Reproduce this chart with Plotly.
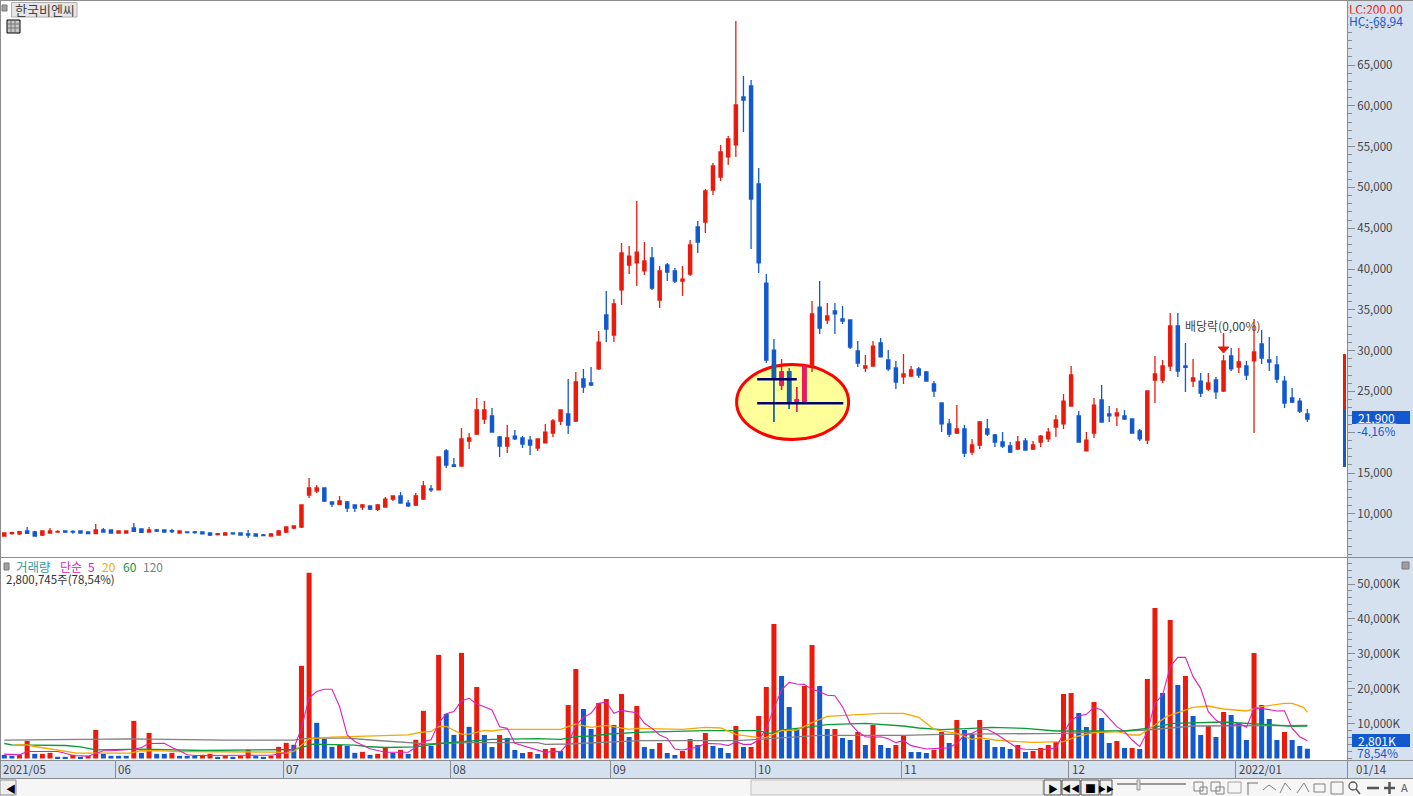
import plotly.graph_objects as go

# candles, one per trading day
opens = [7280,7570,7530,7890,7770,7400,7650,7770,7890,7850,
         7890,7770,7570,8020,8020,7650,7650,8260,8140,7770,
         8020,8020,7930,7650,7770,7770,7770,7650,7440,7400,
         7650,7650,7530,7530,7400,7280,7400,7770,8260,8380,
         12300,12790,13160,11450,11160,11450,11080,10830,10960,10550,
         10830,11810,12180,11320,11080,11810,13040,12920,17700,15980,
         15860,18920,19780,21620,21990,19410,18310,19530,19290,19040,
         18060,18680,19900,21370,22230,21370,26520,26030,27750,34360,
         31910,37430,40490,40740,39760,41350,36200,40490,39760,38530,
         39390,45150,45760,49680,51270,53730,55200,61080,62430,50420,
         38280,30070,25780,27380,23700,23700,28110,35340,33750,34850,
         33870,33750,29950,27870,28110,30930,28850,27870,26770,26890,
         27750,27380,25910,23580,21010,19900,20390,17570,18430,20390,
         19660,18800,18310,17940,18920,17940,18800,19170,20640,21010,
         23210,21990,17700,19900,23950,22230,21990,21990,21620,20150,
         19040,26400,26400,28110,33020,28110,26270,26270,25290,26400,
         25050,29340,27990,28110,28730,30810,28850,28240,26270,24190,
         23820,22230]
highs = [7650,7810,7890,8380,7890,7890,8260,7970,7890,7970,
         7890,7770,8750,8260,8020,7890,7890,8870,8140,8380,
         8140,8020,8140,7890,7770,7890,7770,7650,7650,7770,
         7690,7650,8020,7530,7530,7650,8020,8380,8510,11080,
         14390,13530,13160,11450,12180,11570,11080,11200,10960,11200,
         12060,12180,12670,11690,12550,14020,13530,16960,17940,16840,
         20510,19900,24190,23820,22970,19530,20880,20270,19530,19530,
         19170,21010,21620,22720,26520,27380,27750,27990,32400,37300,
         36320,43190,42820,48330,43310,42700,40370,40740,40120,40370,
         43550,45880,49800,52990,55200,56300,70390,63650,63160,52380,
         39390,31420,28970,27870,25540,28110,36080,38530,35830,35830,
         35470,33750,31180,29460,31180,31540,30070,28730,29580,28110,
         27990,27500,26270,23580,21620,23330,20880,19170,21370,21620,
         19780,20020,18800,19530,19290,18920,19660,20510,22110,24680,
         28110,22600,20020,24190,25780,23210,22970,22720,21620,20390,
         25050,29340,28850,34610,34610,30930,28970,27250,27250,26770,
         29460,30320,30320,28730,33870,32530,31670,29340,26890,25420,
         24190,22840]
lows = [7280,7440,7400,7570,7280,7280,7650,7730,7650,7570,
        7570,7570,7570,7770,7650,7650,7650,7770,7650,7770,
        7770,7770,7650,7650,7690,7570,7480,7280,7400,7400,
        7440,7400,7040,7280,7280,7280,7400,7650,8140,8260,
        11940,12550,11450,10830,11080,10220,10220,10470,10470,10340,
        10830,11570,11320,10830,10960,11690,12670,12920,15610,15740,
        15860,17940,19660,21000,20020,16960,17450,19040,18060,17210,
        17700,18680,19410,20880,19780,21250,24800,25660,27620,31050,
        31050,35590,39390,37920,39270,37430,35220,38530,38280,36690,
        39140,41960,44410,49070,50780,52750,53730,56790,42450,39510,
        28480,21250,25170,22840,22480,23700,27380,32030,33260,32030,
        33260,30200,27990,27380,28110,29220,27500,25290,25910,26770,
        26640,26270,24310,20020,19410,19780,16960,17210,17940,19530,
        18190,18060,17450,17820,17820,17820,18190,18800,19410,20390,
        23210,18800,17700,19290,21250,21250,20760,21500,19900,18920,
        18550,23580,26030,27500,26770,24930,25540,24310,25050,24070,
        24930,27500,27260,26400,19900,28360,27500,26030,22970,23580,
        22350,21250]
closes = [7650,7690,7810,7610,7280,7890,7890,7850,7770,7770,
          7650,7570,8020,7770,7650,7890,7890,7850,7730,8020,
          7890,7770,7810,7890,7690,7690,7530,7400,7570,7650,
          7530,7400,7400,7280,7320,7530,7890,8380,8510,11080,
          13160,13160,11570,11200,11570,10710,10710,11080,10590,11080,
          11810,12180,11320,10960,12180,13410,12920,16960,15980,15820,
          19170,19290,22720,22720,20020,18310,19290,19170,18550,18430,
          19170,20020,21370,22720,20880,26150,25540,25780,31050,32650,
          35710,41960,41590,42080,40980,37670,39760,39630,38530,38770,
          42940,43310,49560,52620,54340,55930,60100,60710,48580,40740,
          28850,26640,27380,23700,23950,28110,34490,32770,34240,34490,
          33630,30440,28480,28110,30560,29220,27750,26150,27130,27620,
          27010,26270,25050,21010,19780,20390,17450,18430,21250,19780,
          18800,18310,17570,18800,17820,18430,19530,20020,21500,23820,
          27010,18800,19040,23330,21250,21990,22350,21620,19900,19170,
          25050,27130,28110,33020,27500,27950,26640,24800,26030,24930,
          28730,27750,28600,27010,29830,29090,28600,26520,23580,23700,
          22600,21620]

# candle parts that sit inside the yellow circle and change colour there
inner_idx = [101,102,103,104,105]
inner_open = [28240,25780,27380,23700,23700]
inner_high = [28240,27380,27380,25540,28110]
inner_low = [21250,25170,22840,22480,23700]
inner_close = [26640,27380,23700,23950,28110]

# volume in thousands of shares
volume = [1050,760,1050,5060,1340,1340,1620,480,480,1050,
          480,760,8210,1340,760,760,760,10790,1620,7350,
          1340,1340,1620,760,760,760,1050,1340,480,760,
          480,760,2480,760,480,760,3340,4490,3920,26550,
          53190,10220,5630,3340,3920,3630,1620,1910,1050,1340,
          3060,1620,2480,1340,5350,13660,3630,29700,12800,6780,
          30270,9070,20480,6730,3290,6730,5870,2430,1570,1860,
          1290,2720,3010,2150,15330,25640,14180,8450,15900,17050,
          9600,18480,6160,15040,3290,2720,4440,1570,1000,2150,
          5590,3870,7310,3580,3010,1570,9310,3290,3290,12180,
          20480,38530,23640,14750,8740,20770,32520,20770,8450,8450,
          5870,5300,7590,3870,9600,3870,3010,3870,6450,1860,
          1860,1570,2430,7590,4440,11030,8170,7020,11030,5300,
          3290,3290,2720,3870,1860,2150,3010,3870,4730,18480,
          18770,13040,9020,16190,11600,4440,5010,3010,3010,2720,
          22780,43120,18770,39680,21060,23640,12180,6730,9310,6160,
          13320,12460,10170,5300,30230,15330,11320,5300,7590,5300,
          3580,2801]
vol_dir = list("bbrrbrrbbr" "brrbbbbrbr" "bbrbbbrrbr" "brrbbrrrbr" "rbbbrbbrbr"
               "rbrbrrbrbb" "rb"
               "rbbrbbbrbr" "rbrrbbrrbr" "brbbrbbrrb" "rbbbrbrrrr" "bbbrrbbrbb"
               "rbrbbrrbbb" "rr"
               "brbbrbbbbr" "brrrrrrbbr" "bbrbrbrrbr" "brbbrbrbbb" "rbbbrbbb")

# volume moving averages, read at the bends of each line
ma5_x = [0,2,3,7,8,9,11,12,13,14,17,18,19,21,22,23,24,25,34,35,36,37,38,39,40,41,42,43,44,45,46,47,48,49,50,53,54,55,56,57,58,59,60,
         61,62,63,64,65,66,67,68,69,70,71,72,73,74,75,76,77,78,79,80,81,82,83,84,85,86,87,88,89,90,91,92,93,94,95,96,97,98,99,100,101,102,103,104,105,106,107,108,109,110,111,112,113,114,115,116,117,118,119,120,121,122,123,
         124,125,126,127,128,129,130,131,132,133,134,135,136,137,138,139,140,141,142,143,144,145,146,147,148,149,150,151,152,153,154,155,156,157,158,159,160,161,162,163,164,165,166,167,168,169,170,171]
ma5_y = [1250,1050,2000,2000,1530,860,670,1430,2200,2200,2670,3150,4300,4390,3150,2200,1050,860,860,950,1240,1810,2960,8690,17290,19200,19860,19860,14900,6780,4870,3920,2770,2290,1810,1810,3150,4870,5350,10120,12800,13470,16520,
         17240,15610,14850,13890,9120,8640,4340,3680,2910,2430,1770,2050,1960,4340,9410,11790,12940,15800,16190,12940,13800,13420,13130,10080,8640,6730,5780,2720,2430,2910,3200,4340,4340,4150,3680,4820,4060,4060,5300,8640,14370,19620,21820,21340,21250,19810,19150,18100,18000,14850,10080,7690,6250,6060,6250,5680,4540,5110,3680,3200,2720,2820,2910,
         3100,4340,6730,7210,8360,8360,7210,5780,4340,2910,2630,2530,2530,2720,2910,7210,11030,12180,12650,14660,13890,11510,9120,7690,5300,3390,7690,15810,18190,26310,28980,28980,23450,20100,13420,11030,9600,9310,10080,8930,14370,14370,13890,13610,13700,8640,6250,5110]

ma20_x = [1.5,3,4,6,8,9.5,16.5,18,21,22.6,36,37,38,39,40,43,50,53,54.5,56,57,58,60,61,63,64,65.5,73,75,77,79,81,82,83,89,92,94,96,99,100,102,104,106,108,111,115,118,120,122,123,125,126,127,128,130,133,135,139,141,143,146,148,149,151,152.5,156,158,160,163,165,168,169,170.5,171]
ma20_y = [3920,3920,3440,2670,2010,1530,1530,2290,2200,2010,1810,1530,2010,3920,5630,6110,6590,6780,7450,7740,9170,9170,6970,6970,8070,7880,8360,8360,9880,8930,9500,8740,8360,8640,8360,8930,8740,6920,5970,6060,7970,8170,10270,12080,12460,12940,12940,11790,8360,7900,7210,6250,5490,5970,5300,4820,4630,4820,6450,7400,7690,6730,6730,9600,11990,14660,15040,14180,13610,14850,15800,15800,14660,13230]

ma60_x = [0,1,8,10,12,16,18,26,34,38,39,40.5,46,47.5,50,54,57,60,61,64,70,73,75,77,79.5,83,92,99,100.5,102,105,108,113,118,120,123,127,129.5,134,138,147,150,153.5,160,166.5,169,171]
ma60_y = [4300,3920,3720,3340,2480,2480,2670,2290,2390,2580,3150,4110,3820,3440,3150,3340,4300,4870,5000,5490,5680,5490,6250,6450,7020,7500,7970,7970,7210,8170,8830,9690,10080,9310,8740,8300,8640,8930,8640,7880,7880,8640,10080,10460,9600,9220,9310]

ma120_x = [0,16.5,29,38,40,45,49,51,55.5,61,70,71,74,83.5,96,99,104,107,118,123,139,146,150,156,171]
ma120_y = [5250,5630,5250,5250,5830,5830,5160,4870,4200,4540,4540,4060,4150,5110,5110,5490,6250,6640,6640,6920,7210,7780,8170,9310,9500]

month_idx = [14.6,36.6,58.5,79.5,98.6,117.7,139.7,161.6]
month_labels = ["06","07","08","09","10","11","12","2022/01"]
price_ticks = [10000,15000,20000,25000,30000,35000,40000,45000,50000,55000,60000,65000,70000]
vol_ticks = [10000,20000,30000,40000,50000]

W, H = 1413, 796
RED, BLUE = "#ea1b0c", "#1259cf"
PANEL = "#d6e1f0"
LINE = "#8c8c8c"
FONT = "Noto Sans CJK KR"

def px(x):
    return x / W

def py(y):
    return 1 - y / H

def box(x0, y0, x1, y1, fill=None, line=None, width=1, layer="above"):
    return dict(type="rect", xref="paper", yref="paper", x0=px(x0), x1=px(x1), y0=py(y0), y1=py(y1),
                fillcolor=fill, line=dict(color=line, width=width if line else 0), layer=layer)

def seg(x0, y0, x1, y1, color=LINE, width=1, dash=None):
    return dict(type="line", xref="paper", yref="paper", x0=px(x0), x1=px(x1), y0=py(y0), y1=py(y1),
                line=dict(color=color, width=width, dash=dash), layer="above")

def label(x, y, text, color="#444444", size=11, anchor="left", bg=None, height=None):
    return dict(xref="paper", yref="paper", x=px(x), y=py(y), text=text, showarrow=False,
                xanchor=anchor, yanchor="middle", font=dict(family=FONT, size=size, color=color),
                bgcolor=bg, borderpad=0, height=height)

days = list(range(len(closes)))
fig = go.Figure()

fig.add_trace(go.Candlestick(x=days, open=opens, high=highs, low=lows, close=closes, yaxis="y", xaxis="x",
                             increasing=dict(line=dict(color=RED, width=1.3), fillcolor=RED),
                             decreasing=dict(line=dict(color=BLUE, width=1.3), fillcolor=BLUE)))
fig.add_trace(go.Candlestick(x=inner_idx, open=inner_open, high=inner_high, low=inner_low, close=inner_close,
                             yaxis="y", xaxis="x",
                             increasing=dict(line=dict(color="#e8186c", width=1.3), fillcolor="#e8186c"),
                             decreasing=dict(line=dict(color="#1560a8", width=1.3), fillcolor="#1560a8")))
# dividend mark
fig.add_trace(go.Scatter(x=[160,160], y=[32150,30440], mode="lines", line=dict(color="#e81b0c", width=1.5), yaxis="y", xaxis="x"))
fig.add_trace(go.Scatter(x=[159.3,160.7,160,159.3], y=[30440,30440,29700,30440], mode="lines", fill="toself",
                         fillcolor="#e81b0c", line=dict(color="#e81b0c", width=1), yaxis="y", xaxis="x"))

fig.add_trace(go.Bar(x=days, y=volume, width=0.66, yaxis="y2", xaxis="x",
                     marker=dict(color=[RED if d == "r" else BLUE for d in vol_dir], line=dict(width=0))))
fig.add_trace(go.Scatter(x=ma120_x, y=ma120_y, mode="lines", line=dict(color="#808080", width=1.3), yaxis="y2", xaxis="x"))
fig.add_trace(go.Scatter(x=ma60_x, y=ma60_y, mode="lines", line=dict(color="#0c9b3a", width=1.3), yaxis="y2", xaxis="x"))
fig.add_trace(go.Scatter(x=ma20_x, y=ma20_y, mode="lines", line=dict(color="#f5a800", width=1.3), yaxis="y2", xaxis="x"))
fig.add_trace(go.Scatter(x=ma5_x, y=ma5_y, mode="lines", line=dict(color="#e020b8", width=1.1), yaxis="y2", xaxis="x"))

shapes = [
    box(0, 779, W, H, fill="#f6f6f6", layer="below"),
    # circle and the two lines somebody drew on the chart
    dict(type="circle", xref="x", yref="y", x0=96.1, x1=110.8, y0=19100, y1=28300, layer="below",
         fillcolor="#ffff99", line=dict(color="#ff0000", width=3)),
    dict(type="line", xref="x", yref="y", x0=98.8, x1=104.0, y0=26480, y1=26480, line=dict(color="#00006e", width=2.5)),
    dict(type="line", xref="x", yref="y", x0=98.8, x1=110.1, y0=23540, y1=23540, line=dict(color="#00006e", width=2.5)),
    # frame
    seg(0.5, 0, 0.5, 778),
    seg(0, 0.5, W, 0.5),
    seg(0, 557.5, W, 557.5),
    seg(0, 760.5, W, 760.5),
    seg(0, 778.5, W, 778.5),
    seg(1347.5, 0, 1347.5, 778),
    # high/low bar beside the axis
    dict(type="line", xref="paper", yref="y", x0=px(1344.5), x1=px(1344.5), y0=22840, y1=29580, line=dict(color=RED, width=3)),
    dict(type="line", xref="paper", yref="y", x0=px(1344.5), x1=px(1344.5), y0=15740, y1=22840, line=dict(color=BLUE, width=3)),
    # last value boxes
    box(1352, 411, 1410, 424, fill=BLUE),
    box(1352, 734, 1410, 747, fill=BLUE),
    # panel buttons
    box(2, 5, 7, 11, fill="#a0a0a0", line="#777777"),
    box(11.5, 2.5, 77, 17, fill="#e6e6e6", line="#b0b0b0"),
    box(7, 20, 20, 33, fill="#c8c8c8", line="#000000"),
    seg(11, 21, 11, 32, "#777777"), seg(15, 21, 15, 32, "#777777"), seg(8, 24, 19, 24, "#777777"), seg(8, 28, 19, 28, "#777777"),
    box(4, 563, 9, 570, fill="#a0a0a0", line="#777777"),
    box(1402, 562, 1409, 569, fill="#a0a0a0", line="#777777"),
    # scroll bar and player buttons
    box(0, 780, 16, 795, fill="#f0f0f0", line="#888888"),
    box(751, 780, 1043, 795, fill="#eeeeee", line="#c0c0c0"),
    box(1044, 780, 1061, 795, fill="#f0f0f0", line="#555555"),
    box(1062, 780, 1080, 795, fill="#f0f0f0", line="#555555"),
    box(1081, 780, 1099, 795, fill="#f0f0f0", line="#555555"),
    box(1100, 780, 1112, 795, fill="#f0f0f0", line="#555555"),
    seg(1117, 784, 1186, 784, "#999999", 2),
    box(1137, 780, 1140, 790, fill="#dddddd", line="#999999"),
    # toolbar icons
    box(1194, 782, 1203, 791, line="#808080"), box(1200, 787, 1207, 794, line="#808080"),
    box(1211, 782, 1220, 791, line="#808080"), box(1216, 787, 1224, 794, line="#808080"),
    box(1228, 782, 1241, 793, line="#a0a0a0"),
    seg(1247, 783, 1258, 783, "#707070"), seg(1248, 783, 1248, 795, "#707070"),
    seg(1263, 790, 1269, 785, "#808080"), seg(1269, 785, 1276, 790, "#808080"),
    seg(1280, 793, 1285, 783, "#808080"), seg(1285, 783, 1291, 790, "#808080"),
    seg(1297, 793, 1304, 783, "#808080"), seg(1304, 783, 1309, 792, "#808080"),
    box(1314, 784, 1325, 792, line="#808080"),
    box(1331, 782, 1343, 794, line="#808080"),
    dict(type="circle", xref="paper", yref="paper", x0=px(1349), x1=px(1357), y0=py(790), y1=py(782), line=dict(color="#555555", width=1.3)),
    seg(1356, 789, 1360, 794, "#555555", 1.5),
    seg(1367, 788, 1379, 788, "#555555", 2.5),
    seg(1384, 788, 1395, 788, "#555555", 2.5), seg(1389.5, 782, 1389.5, 794, "#555555", 2.5),
]

annotations = [
    label(14, 9, "한국비엔씨", size=13),
    label(1348, 8, "LC:200,00", RED, 12, bg=PANEL, height=12),
    label(1348, 20, "HC:-68,94", BLUE, 12, bg=PANEL, height=12),
    label(1184, 325, "배당락(0,00%)", size=12),
    label(1357, 417.5, "21,900", "#ffffff", 12),
    label(1356, 430, "-4,16%", BLUE, 12, bg=PANEL, height=12),
    label(1357, 740.5, "2,801K", "#ffffff", 12),
    label(1356, 752.5, "78,54%", BLUE, 12),
    label(15, 566, "거래량", "#2f9a9a", 12.5),
    label(59, 566, "단순", "#e020b8", 12),
    label(87, 566, "5", "#e020b8", 12),
    label(101, 566, "20", "#f5a800", 12),
    label(122, 566, "60", "#0c9b3a", 12),
    label(142, 566, "120", "#808080", 12),
    label(5, 579, "2,800,745주(78,54%)", "#333333", 11.5),
    label(2, 769, "2021/05", size=11.5),
    label(1355, 769, "01/14", size=11.5),
    label(5, 788, "◀", "#000000", 10),
    label(1052.5, 788, "▶", "#000000", 10, "center"),
    label(1071, 788, "◀◀", "#000000", 9, "center"),
    label(1090, 788, "■", "#000000", 11, "center"),
    label(1106, 788, "▶▶", "#000000", 8, "center"),
    label(1404.5, 787, "A", "#555555", 11, "center"),
]
for pos, txt in zip(month_idx, month_labels):
    annotations.append(dict(xref="x", yref="paper", x=pos + 0.1, y=py(769), text=txt, showarrow=False, xanchor="left",
                            yanchor="middle", font=dict(family=FONT, size=11.5, color="#444444")))

fig.update_layout(
    width=W, height=H,
    margin=dict(l=0, r=0, t=0, b=0),
    showlegend=False,
    paper_bgcolor=PANEL,
    plot_bgcolor="#ffffff",
    boxmode="overlay",
    boxgap=0.4,
    font=dict(family=FONT, size=11, color="#444444"),
    shapes=shapes,
    annotations=annotations,
    xaxis=dict(domain=[px(1), px(1347)], range=[-0.43, 176.2], anchor="y2", rangeslider=dict(visible=False),
               tickmode="array", tickvals=month_idx, ticktext=[""] * len(month_idx), ticks="outside", ticklen=17,
               tickcolor=LINE, tickwidth=1, showgrid=False, zeroline=False, showline=False),
    yaxis=dict(domain=[py(557), py(1)], range=[4706, 72843], side="right", anchor="x",
               tickmode="array", tickvals=price_ticks, tickformat=",", ticks="outside", ticklen=7,
               tickcolor=LINE, tickwidth=1, showgrid=False, zeroline=False, showline=False,
               minor=dict(tickmode="linear", tick0=0, dtick=1000, ticks="outside", ticklen=4, tickcolor=LINE, showgrid=False),
               tickfont=dict(family=FONT, size=11.5, color="#444444")),
    yaxis2=dict(domain=[py(760), py(558)], range=[-430, 57450], side="right", anchor="x",
                tickmode="array", tickvals=vol_ticks, ticktext=["%s,000K" % (v // 1000) for v in vol_ticks], ticks="outside", ticklen=7,
                tickcolor=LINE, tickwidth=1, showgrid=False, zeroline=False, showline=False,
                minor=dict(tickmode="linear", tick0=0, dtick=2000, ticks="outside", ticklen=4, tickcolor=LINE, showgrid=False),
                tickfont=dict(family=FONT, size=11.5, color="#444444")),
)

fig.write_html("out.html", config=dict(displayModeBar=False),
               post_script="document.body.style.margin='0';document.body.style.overflow='hidden';")
